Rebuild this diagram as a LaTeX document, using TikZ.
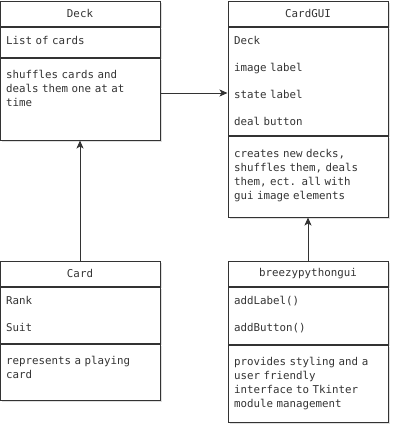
\documentclass[tikz,border=0pt]{standalone}
\usepackage{fontspec}
\setmonofont{DejaVu Sans Mono}
\usepackage{tikz}
\usetikzlibrary{arrows.meta,shadows,positioning}

\definecolor{umlline}{HTML}{333333}
\newcommand{\umlfont}{\fontsize{10.8bp}{14bp}\selectfont\ttfamily}

\tikzset{
	classhead/.style={draw=umlline, fill=white, line width=1bp, minimum width=160bp, minimum height=25bp, inner sep=0pt, text=umlline, font=\umlfont, drop shadow={opacity=0.25, shadow xshift=2bp, shadow yshift=-2bp}},
	classpart/.style={draw=umlline, fill=white, line width=1bp, minimum width=160bp, inner sep=0pt, drop shadow={opacity=0.25, shadow xshift=2bp, shadow yshift=-2bp}},
	member/.style={anchor=north west, minimum height=26bp, text height=10bp, text depth=1.5bp, text width=150bp, align=left, inner sep=0pt, text=umlline, font=\umlfont},
	duty/.style={anchor=north west, text width=150bp, align=left, inner sep=0pt, text=umlline, font=\umlfont},
}

\begin{document}
\begin{tikzpicture}[>={Stealth[length=8bp,width=7bp,inset=2bp]}, line width=1bp]
	\useasboundingbox (0bp,0bp) rectangle (400bp,-435bp);

	% Deck
	\node (deck) at (80bp,-13.5bp) [classhead] {Deck};
	\node (deckattr) [classpart, minimum height=30bp, below=0bp of deck] {};
	\node (deckmeth) [classpart, minimum height=82bp, below=0bp of deckattr] {};
	\node (deckcards) [member, below right=0bp and 6bp of deckattr.north west] {List of cards};
	\node (deckdoes) [duty, below right=12bp and 6bp of deckmeth.north west] {shuffles cards and\\deals them one at at\\time};

	% CardGUI
	\node (gui) at (308bp,-13.5bp) [classhead] {CardGUI};
	\node (guiattr) [classpart, minimum height=108bp, below=0bp of gui] {};
	\node (guimeth) [classpart, minimum height=81bp, below=0bp of guiattr] {};
	\node (guideck) [member, below right=0bp and 6bp of guiattr.north west] {Deck};
	\node (guiimage) [member, below=0bp of guideck] {image label};
	\node (guistate) [member, below=0bp of guiimage] {state label};
	\node (guideal) [member, below=0bp of guistate] {deal button};
	\node (guidoes) [duty, below right=13bp and 6bp of guimeth.north west] {creates new decks,\\shuffles them, deals\\them, ect. all with\\gui image elements};

	% Card
	\node (card) at (80bp,-273.5bp) [classhead] {Card};
	\node (cardattr) [classpart, minimum height=56bp, below=0bp of card] {};
	\node (cardmeth) [classpart, minimum height=56bp, below=0bp of cardattr] {};
	\node (cardrank) [member, below right=0bp and 6bp of cardattr.north west] {Rank};
	\node (cardsuit) [member, below=0bp of cardrank] {Suit};
	\node (carddoes) [duty, below right=12bp and 6bp of cardmeth.north west] {represents a playing\\card};

	% breezypythongui
	\node (breezy) at (308bp,-273.5bp) [classhead] {breezypythongui};
	\node (breezyattr) [classpart, minimum height=57bp, below=0bp of breezy] {};
	\node (breezymeth) [classpart, minimum height=77bp, below=0bp of breezyattr] {};
	\node (breezylabel) [member, below right=0bp and 6bp of breezyattr.north west] {addLabel()};
	\node (breezybutton) [member, below=0bp of breezylabel] {addButton()};
	\node (breezydoes) [duty, below right=12bp and 6bp of breezymeth.north west] {provides styling and a\\user friendly\\interface to Tkinter\\module management};

	% links
	\coordinate (link) at ([yshift=6bp]deckmeth.east);
	\draw [->, umlline] (link) -- (link -| guiattr.west);
	\draw [->, umlline] (card) -- (deckmeth);
	\draw [->, umlline] (breezy) -- (guimeth);

\end{tikzpicture}
\end{document}
